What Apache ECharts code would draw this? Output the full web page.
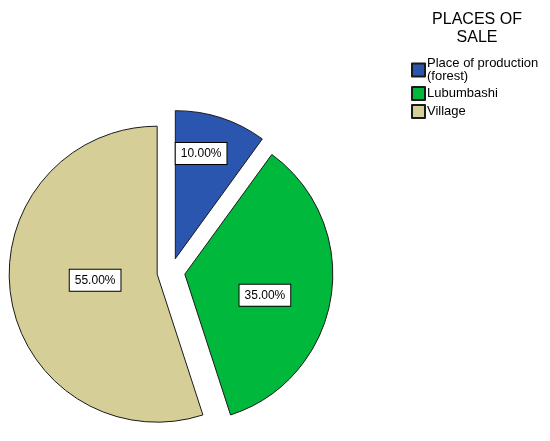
<!DOCTYPE html>
<html>
<head>
<meta charset="utf-8">
<script src="https://cdn.jsdelivr.net/npm/echarts@6/dist/echarts.min.js"></script>
<style>
html,body{margin:0;padding:0;background:#fff;}
#main{width:550px;height:441px;}
</style>
</head>
<body>
<div id="main"></div>
<script>
var categories = ['Place of production\n(forest)', 'Lubumbashi', 'Village'];
var values = [10, 35, 55];
var labels = ['10.00%', '35.00%', '55.00%'];
var colors = ['#2a56b0', '#00b83b', '#d5cf97'];
var legendTitle = 'PLACES OF\nSALE';

var labelShift = [[2, -32], [4, 9], [14, -6]];

var font = 'Arial, "Liberation Sans", sans-serif';
var chart = echarts.init(document.getElementById('main'), null, {renderer: 'canvas'});

var data = categories.map(function (c, i) {
  return {
    name: c,
    value: values[i],
    selected: true,
    itemStyle: {color: colors[i]},
    label: {formatter: labels[i]}
  };
});

chart.setOption({
  animation: false,
  backgroundColor: '#fff',
  title: {
    text: legendTitle,
    left: 472,
    top: 6,
    textAlign: 'center',
    textStyle: {fontFamily: font, fontSize: 16, fontWeight: 'normal', color: '#000', lineHeight: 18}
  },
  legend: {
    orient: 'vertical',
    left: 406,
    top: 52,
    itemWidth: 13,
    itemHeight: 13,
    itemGap: 3,
    selectedMode: false,
    icon: 'rect',
    textStyle: {fontFamily: font, fontSize: 13, color: '#000', lineHeight: 13, padding: [0, 0, 0, -3]},
    data: categories
  },
  series: [{
    type: 'pie',
    center: [171, 272],
    radius: [0, 148],
    startAngle: 90,
    clockwise: true,
    selectedMode: 'multiple',
    selectedOffset: 14,
    avoidLabelOverlap: false,
    silent: true,
    itemStyle: {borderColor: '#1a1a1a', borderWidth: 1},
    emphasis: {disabled: true},
    label: {
      show: true,
      position: 'inside',
      fontFamily: font,
      fontSize: 12,
      color: '#000',
      backgroundColor: '#fff',
      borderColor: '#000',
      borderWidth: 1,
      padding: [5, 5, 4, 5]
    },
    labelLayout: function (p) {
      return {dx: labelShift[p.dataIndex][0], dy: labelShift[p.dataIndex][1]};
    },
    labelLine: {show: false},
    data: data
  }]
});
</script>
</body>
</html>
